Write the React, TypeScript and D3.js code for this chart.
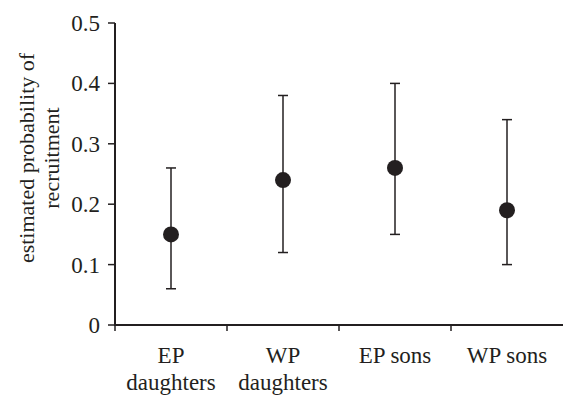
import { useEffect, useRef } from 'react'
import { scaleBand, scaleLinear, select } from 'd3'

// groups along the x axis, two-line labels
const groups = ['EP daughters', 'WP daughters', 'EP sons', 'WP sons']
const labelLines = [['EP', 'daughters'], ['WP', 'daughters'], ['EP sons'], ['WP sons']]
// estimated probability + error bar ends
const estimate = [0.15, 0.24, 0.26, 0.19]
const lower = [0.06, 0.12, 0.15, 0.1]
const upper = [0.26, 0.38, 0.4, 0.34]
const yTicks = [0, 0.1, 0.2, 0.3, 0.4, 0.5]

const W = 563
const H = 396
const INK = '#231f20'
const FONT = '"Liberation Serif", "Times New Roman", serif'

export default function App() {
  const ref = useRef<SVGSVGElement>(null)

  useEffect(() => {
    const svg = select(ref.current)
    svg.selectAll('*').remove()

    const x = scaleBand().domain(groups).range([115, 563])
    const y = scaleLinear().domain([0, 0.5]).range([325, 23])

    const g = svg.append('g').style('font-family', FONT)

    // y axis
    g.append('line')
      .attr('x1', 115).attr('x2', 115)
      .attr('y1', y(0.5)).attr('y2', y(0))
      .attr('stroke', INK).attr('stroke-width', 2)

    g.selectAll('.ytick')
      .data(yTicks)
      .join('line')
      .attr('x1', 108).attr('x2', 115)
      .attr('y1', d => y(d)).attr('y2', d => y(d))
      .attr('stroke', INK).attr('stroke-width', 1.5)

    g.selectAll('.ylab')
      .data(yTicks)
      .join('text')
      .attr('x', 100)
      .attr('y', d => y(d))
      .attr('dy', '0.35em')
      .attr('text-anchor', 'end')
      .attr('font-size', 23)
      .attr('fill', INK)
      .text(d => (d === 0 ? '0' : d.toFixed(1)))

    // x axis
    g.append('line')
      .attr('x1', 114).attr('x2', W)
      .attr('y1', y(0)).attr('y2', y(0))
      .attr('stroke', INK).attr('stroke-width', 2)

    g.selectAll('.xtick')
      .data(groups)
      .join('line')
      .attr('x1', d => x(d)!).attr('x2', d => x(d)!)
      .attr('y1', y(0)).attr('y2', y(0) + 6)
      .attr('stroke', INK).attr('stroke-width', 1.5)

    g.selectAll('.xlab')
      .data(groups)
      .join('text')
      .attr('text-anchor', 'middle')
      .attr('font-size', 23)
      .attr('fill', INK)
      .each(function (d, i) {
        const t = select(this)
        labelLines[i].forEach((line, j) => {
          t.append('tspan')
            .attr('x', x(d)! + x.bandwidth() / 2)
            .attr('y', 363 + j * 27)
            .text(line)
        })
      })

    // y title, two lines
    const title = g.append('text')
      .attr('transform', 'translate(0,158) rotate(-90)')
      .attr('text-anchor', 'middle')
      .attr('font-size', 22)
      .attr('fill', INK)
    title.append('tspan').attr('x', 0).attr('y', 34).text('estimated probability of')
    title.append('tspan').attr('x', 0).attr('y', 59).text('recruitment')

    // error bars
    const cx = (i: number) => x(groups[i])! + x.bandwidth() / 2
    const bars = g.selectAll('.err')
      .data(groups)
      .join('g')

    bars.append('line')
      .attr('x1', (d, i) => cx(i)).attr('x2', (d, i) => cx(i))
      .attr('y1', (d, i) => y(upper[i])).attr('y2', (d, i) => y(lower[i]))
      .attr('stroke', INK).attr('stroke-width', 1.5)

    bars.append('line')
      .attr('x1', (d, i) => cx(i) - 5).attr('x2', (d, i) => cx(i) + 5)
      .attr('y1', (d, i) => y(upper[i])).attr('y2', (d, i) => y(upper[i]))
      .attr('stroke', INK).attr('stroke-width', 1.5)

    bars.append('line')
      .attr('x1', (d, i) => cx(i) - 5).attr('x2', (d, i) => cx(i) + 5)
      .attr('y1', (d, i) => y(lower[i])).attr('y2', (d, i) => y(lower[i]))
      .attr('stroke', INK).attr('stroke-width', 1.5)

    bars.append('circle')
      .attr('cx', (d, i) => cx(i))
      .attr('cy', (d, i) => y(estimate[i]))
      .attr('r', 8)
      .attr('fill', INK)
  }, [])

  return (
    <svg
      ref={ref}
      width={W}
      height={H}
      style={{ position: 'absolute', left: 0, top: 0, background: '#fff' }}
    />
  )
}
